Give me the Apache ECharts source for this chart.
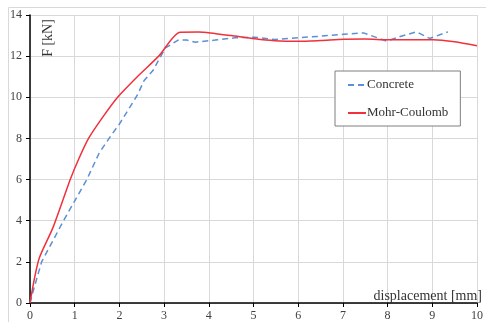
<!DOCTYPE html>
<html>
<head>
<meta charset="utf-8" />
<title>F - displacement</title>
<style>
  html, body { margin: 0; padding: 0; background: #fff; }
  #chart { width: 486px; height: 322px; }
</style>
</head>
<body>
<div id="chart"></div>
<script src="https://cdn.jsdelivr.net/npm/echarts@6/dist/echarts.min.js"></script>
<script>
// Concrete (dashed blue)
var concreteX = [0, 0.1, 0.26, 0.75, 1.27, 1.55, 1.8, 2.0, 2.2, 2.4, 2.55, 2.75, 3.03, 3.33, 3.5, 3.7, 4.14, 4.58, 5.03, 5.47, 6.0, 6.5, 7.02, 7.46, 7.98, 8.3, 8.65, 8.94, 9.35];
var concreteY = [0, 0.8, 2.0, 4.0, 6.0, 7.3, 8.1, 8.7, 9.4, 10.1, 10.8, 11.3, 12.4, 12.8, 12.78, 12.68, 12.78, 12.89, 12.92, 12.81, 12.89, 12.97, 13.06, 13.13, 12.73, 12.97, 13.18, 12.86, 13.18];
// Mohr-Coulomb (solid red)
var mohrX = [0, 0.1, 0.21, 0.52, 0.9, 1.09, 1.31, 1.6, 1.96, 2.4, 2.88, 3.36, 3.77, 4.03, 4.5, 5.03, 5.47, 6.0, 6.5, 7.02, 7.5, 8.02, 8.5, 9.02, 9.5, 10];
var mohrY = [0, 1.2, 2.2, 3.7, 6.0, 7.0, 8.0, 8.95, 10.0, 11.0, 12.0, 13.16, 13.17, 13.13, 13.0, 12.84, 12.75, 12.72, 12.76, 12.82, 12.83, 12.8, 12.8, 12.8, 12.7, 12.5];

var seriesNames = ['Concrete', 'Mohr-Coulomb'];
var xTitle = 'displacement [mm]';
var yTitle = 'F [kN]';

function pairs(xs, ys) {
  var out = [];
  for (var i = 0; i < xs.length; i++) out.push([xs[i], ys[i]]);
  return out;
}

var serif = '"Liberation Serif", "DejaVu Serif", serif';
var chart = echarts.init(document.getElementById('chart'));
chart.setOption({
  animation: false,
  grid: { left: 30, top: 15, right: 4, bottom: 17, containLabel: false },
  graphic: [
    { type: 'rect', silent: true, z: -10,
      shape: { x: 8.5, y: 7.5, width: 600, height: 600 },
      style: { fill: 'none', stroke: '#d9d9d9', lineWidth: 1 } },
    { type: 'text', x: 48, y: 38, rotation: Math.PI / 2, z: 10,
      style: { text: yTitle, font: '14px ' + serif, fill: '#333', align: 'center', verticalAlign: 'middle' } },
    { type: 'text', x: 482, y: 296, z: 10,
      style: { text: xTitle, font: '14px ' + serif, fill: '#333', align: 'right', verticalAlign: 'middle' } }
  ],
  legend: {
    orient: 'vertical',
    left: 335,
    top: 71,
    data: seriesNames,
    backgroundColor: '#fff',
    borderColor: '#7f7f7f',
    borderWidth: 1,
    padding: [7, 12, 6, 12],
    itemGap: 14,
    itemWidth: 18,
    itemHeight: 14,
    itemStyle: { opacity: 0 },
    textStyle: { fontFamily: serif, fontSize: 13, color: '#333', lineHeight: 14, padding: [0, 0, 0, -4] }
  },
  xAxis: {
    type: 'value', min: 0, max: 10, interval: 1,
    axisLine: { onZero: false, lineStyle: { color: '#000', width: 1.5 } },
    axisTick: { show: true, length: 4, lineStyle: { color: '#000' } },
    axisLabel: { margin: 7, fontFamily: serif, fontSize: 12, color: '#404040' },
    splitLine: { show: true, lineStyle: { color: '#d9d9d9', width: 1 } }
  },
  yAxis: {
    type: 'value', min: 0, max: 14, interval: 2,
    axisLine: { show: true, onZero: false, lineStyle: { color: '#000', width: 1.5 } },
    axisTick: { show: true, length: 4, lineStyle: { color: '#000' } },
    axisLabel: { margin: 8, fontFamily: serif, fontSize: 12, color: '#404040' },
    splitLine: { show: true, lineStyle: { color: '#d9d9d9', width: 1 } }
  },
  series: [
    {
      name: seriesNames[0], type: 'line', showSymbol: false, symbol: 'none',
      data: pairs(concreteX, concreteY),
      lineStyle: { color: '#5b8fd6', width: 1.5, type: [6, 4] },
      itemStyle: { color: '#5b8fd6' }
    },
    {
      name: seriesNames[1], type: 'line', showSymbol: false, symbol: 'none', smooth: 0.25,
      data: pairs(mohrX, mohrY),
      lineStyle: { color: '#f0303a', width: 1.5 },
      itemStyle: { color: '#f0303a' }
    }
  ]
});
</script>
</body>
</html>
